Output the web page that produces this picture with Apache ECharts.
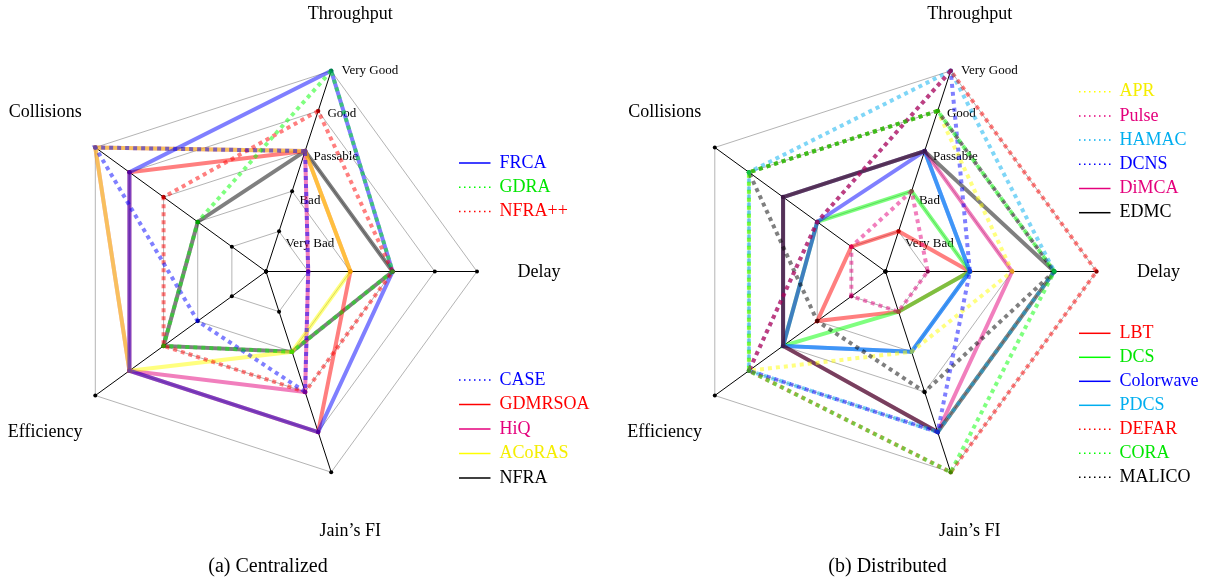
<!DOCTYPE html>
<html><head><meta charset="utf-8">
<script src="https://cdn.jsdelivr.net/npm/echarts@6/dist/echarts.min.js"></script>
<style>html,body{margin:0;padding:0;background:#fff}#c{width:1212px;height:584px}</style>
</head><body><div id="c"></div>
<script>
// ---------- data (axis order: Throughput, Collisions, Efficiency, Jain's FI, Delay) ----------
const axisNames = ['Throughput', 'Collisions', 'Efficiency', "Jain\u2019s FI", 'Delay'];
const levelNames = ['Very Bad', 'Bad', 'Passable', 'Good', 'Very Good'];
const levelTicks = [0, 1, 2, 3, 4, 5];
const captions = ['(a) Centralized', '(b) Distributed'];

// (a) Centralized
const FRCA    = [5, 4, 4, 4, 3];
const GDRA    = [5, 2, 3, 2, 3];
const NFRApp  = [4, 3, 3, 3, 3];
const CASE    = [3, 5, 2, 3, 1];
const GDMRSOA = [3, 4, 4, 4, 2];
const HiQ     = [3, 5, 4, 3, 1];
const ACoRAS  = [3, 5, 4, 2, 2];
const NFRA    = [3, 2, 3, 2, 3];

// (b) Distributed
const APR       = [4, 4, 4, 2, 3];
const Pulse     = [2, 1, 1, 1, 1];
const HAMAC     = [5, 4, 4, 4, 4];
const DCNS      = [5, 2, 4, 4, 2];
const DiMCA     = [3, 3, 3, 4, 3];
const EDMC      = [3, 3, 3, 4, 4];
const LBT       = [1, 1, 2, 1, 2];
const DCS       = [2, 2, 3, 1, 2];
const Colorwave = [3, 2, 3, 2, 2];
const PDCS      = [3, 3, 3, 2, 2];
const DEFAR     = [5, 2, 4, 5, 5];
const CORA      = [4, 4, 4, 5, 4];
const MALICO    = [4, 4, 2, 3, 4];

// ---------- styles ----------
const C = {blue:'#0000ff', green:'#00ff00', red:'#ff0000', mag:'#e4007c', yel:'#ffff00', cyan:'#00aeef', black:'#000000'};
const TXT = {blue:'#0000ff', green:'#00e600', red:'#ff0000', mag:'#e4007c', yel:'#f5ee00', cyan:'#00aeef', black:'#000000'};

// drawing order (bottom -> top) and legend groups
const leftSeries = [
  {name:'NFRA', v:NFRA, c:'black', d:false},
  {name:'GDMRSOA', v:GDMRSOA, c:'red', d:false},
  {name:'HiQ', v:HiQ, c:'mag', d:false},
  {name:'ACoRAS', v:ACoRAS, c:'yel', d:false},
  {name:'FRCA', v:FRCA, c:'blue', d:false},
  {name:'NFRA++', v:NFRApp, c:'red', d:true},
  {name:'CASE', v:CASE, c:'blue', d:true},
  {name:'GDRA', v:GDRA, c:'green', d:true}
];
const rightSeries = [
  {name:'LBT', v:LBT, c:'red', d:false},
  {name:'DCS', v:DCS, c:'green', d:false},
  {name:'Colorwave', v:Colorwave, c:'blue', d:false},
  {name:'PDCS', v:PDCS, c:'cyan', d:false},
  {name:'DiMCA', v:DiMCA, c:'mag', d:false},
  {name:'EDMC', v:EDMC, c:'black', d:false},
  {name:'APR', v:APR, c:'yel', d:true},
  {name:'Pulse', v:Pulse, c:'mag', d:true},
  {name:'MALICO', v:MALICO, c:'black', d:true},
  {name:'HAMAC', v:HAMAC, c:'cyan', d:true},
  {name:'DCNS', v:DCNS, c:'blue', d:true},
  {name:'DEFAR', v:DEFAR, c:'red', d:true},
  {name:'CORA', v:CORA, c:'green', d:true}
];
const legendGroups = [
  {names:['FRCA','GDRA','NFRA++'], left:459, top:154, gap:6.2, list:leftSeries},
  {names:['CASE','GDMRSOA','HiQ','ACoRAS','NFRA'], left:459, top:371, gap:6.5, list:leftSeries},
  {names:['APR','Pulse','HAMAC','DCNS','DiMCA','EDMC'], left:1079, top:82.7, gap:6.2, list:rightSeries},
  {names:['LBT','DCS','Colorwave','PDCS','DEFAR','CORA','MALICO'], left:1079, top:324.3, gap:6.0, list:rightSeries}
];

const FONT = '"Liberation Serif", "Times New Roman", serif';
const centers = [[266, 271.5], [885.5, 271.5]];
const R = 211;
const START = 72;

function radarCfg(center) {
  return {
    center: center, radius: R, startAngle: START, splitNumber: 5, shape: 'polygon',
    indicator: axisNames.map(n => ({name: n, min: 0, max: 5})),
    axisName: {show: false},
    axisLine: {show: true, lineStyle: {color: '#000', width: 1}},
    axisTick: {show: false}, axisLabel: {show: false},
    splitLine: {show: true, lineStyle: {color: '#b4b4b4', width: 1}},
    splitArea: {show: false}
  };
}
function dotSeries(idx) {
  return {type: 'radar', radarIndex: idx, silent: true, z: 1, symbol: 'circle', symbolSize: 4,
    itemStyle: {color: '#000'}, lineStyle: {width: 0, opacity: 0}, emphasis: {disabled: true},
    data: levelTicks.map(t => ({value: axisNames.map(() => t)}))};
}
function mk(s, idx) {
  const col = C[s.c];
  return {type: 'radar', radarIndex: idx, name: s.name, z: 2, symbol: 'circle', symbolSize: 4.5,
    itemStyle: {color: col, opacity: 0.5},
    lineStyle: {color: col, width: 4, opacity: 0.5, type: s.d ? [4, 4] : 'solid', cap: 'butt', join: 'miter'},
    emphasis: {disabled: true},
    data: [{name: s.name, value: s.v}]};
}
let dots = '';
for (let i = 0; i <= 6; i++) dots += 'M' + (i * 5) + ',0h1.5v1.5h-1.5z';
const dotIcon = 'path://' + dots;
const solidIcon = 'path://M0,0H31.5V1.5H0Z';

function legendCfg(g) {
  return {orient: 'vertical', left: g.left, top: g.top, itemGap: g.gap, itemWidth: 31.5, itemHeight: 1.5,
    selectedMode: false, padding: 0,
    textStyle: {fontFamily: FONT, fontSize: 18, lineHeight: 18, padding: [0, 0, 0, 4]},
    data: g.names.map(n => {
      const s = g.list.find(x => x.name === n);
      return {name: n, icon: s.d ? dotIcon : solidIcon,
        itemStyle: {color: C[s.c], opacity: 1, borderWidth: 0},
        lineStyle: {opacity: 0},
        textStyle: {color: TXT[s.c]}};
    })};
}

const graphics = [];
const rad = d => d * Math.PI / 180;
centers.forEach((ctr, k) => {
  const [cx, cy] = ctr;
  axisNames.forEach((n, i) => {
    const a = rad(START + 72 * i);
    graphics.push({type: 'text', silent: true, style: {text: n, x: cx + 273 * Math.cos(a), y: cy - 272 * Math.sin(a) + 1,
      align: 'center', verticalAlign: 'middle', fontFamily: FONT, fontSize: 18, fill: '#000'}});
  });
  const a0 = rad(START);
  levelNames.forEach((n, i) => {
    const r = (i + 1) * R / 5;
    graphics.push({type: 'text', silent: true, style: {text: n,
      x: cx + 1.075 * r * Math.cos(a0) + 5.4, y: cy - 1.075 * r * Math.sin(a0) + 15,
      align: 'left', verticalAlign: 'middle', fontFamily: FONT, fontSize: 13, fill: '#000'}});
  });
  graphics.push({type: 'text', silent: true, style: {text: captions[k], x: cx + 2, y: 567,
    align: 'center', verticalAlign: 'middle', fontFamily: FONT, fontSize: 20, fill: '#000'}});
});

const chart = echarts.init(document.getElementById('c'), null, {renderer: 'canvas'});
chart.setOption({
  animation: false,
  backgroundColor: '#fff',
  radar: centers.map(radarCfg),
  legend: legendGroups.map(legendCfg),
  series: [dotSeries(0), dotSeries(1)]
    .concat(leftSeries.map(s => mk(s, 0)))
    .concat(rightSeries.map(s => mk(s, 1))),
  graphic: graphics
});
</script></body></html>
